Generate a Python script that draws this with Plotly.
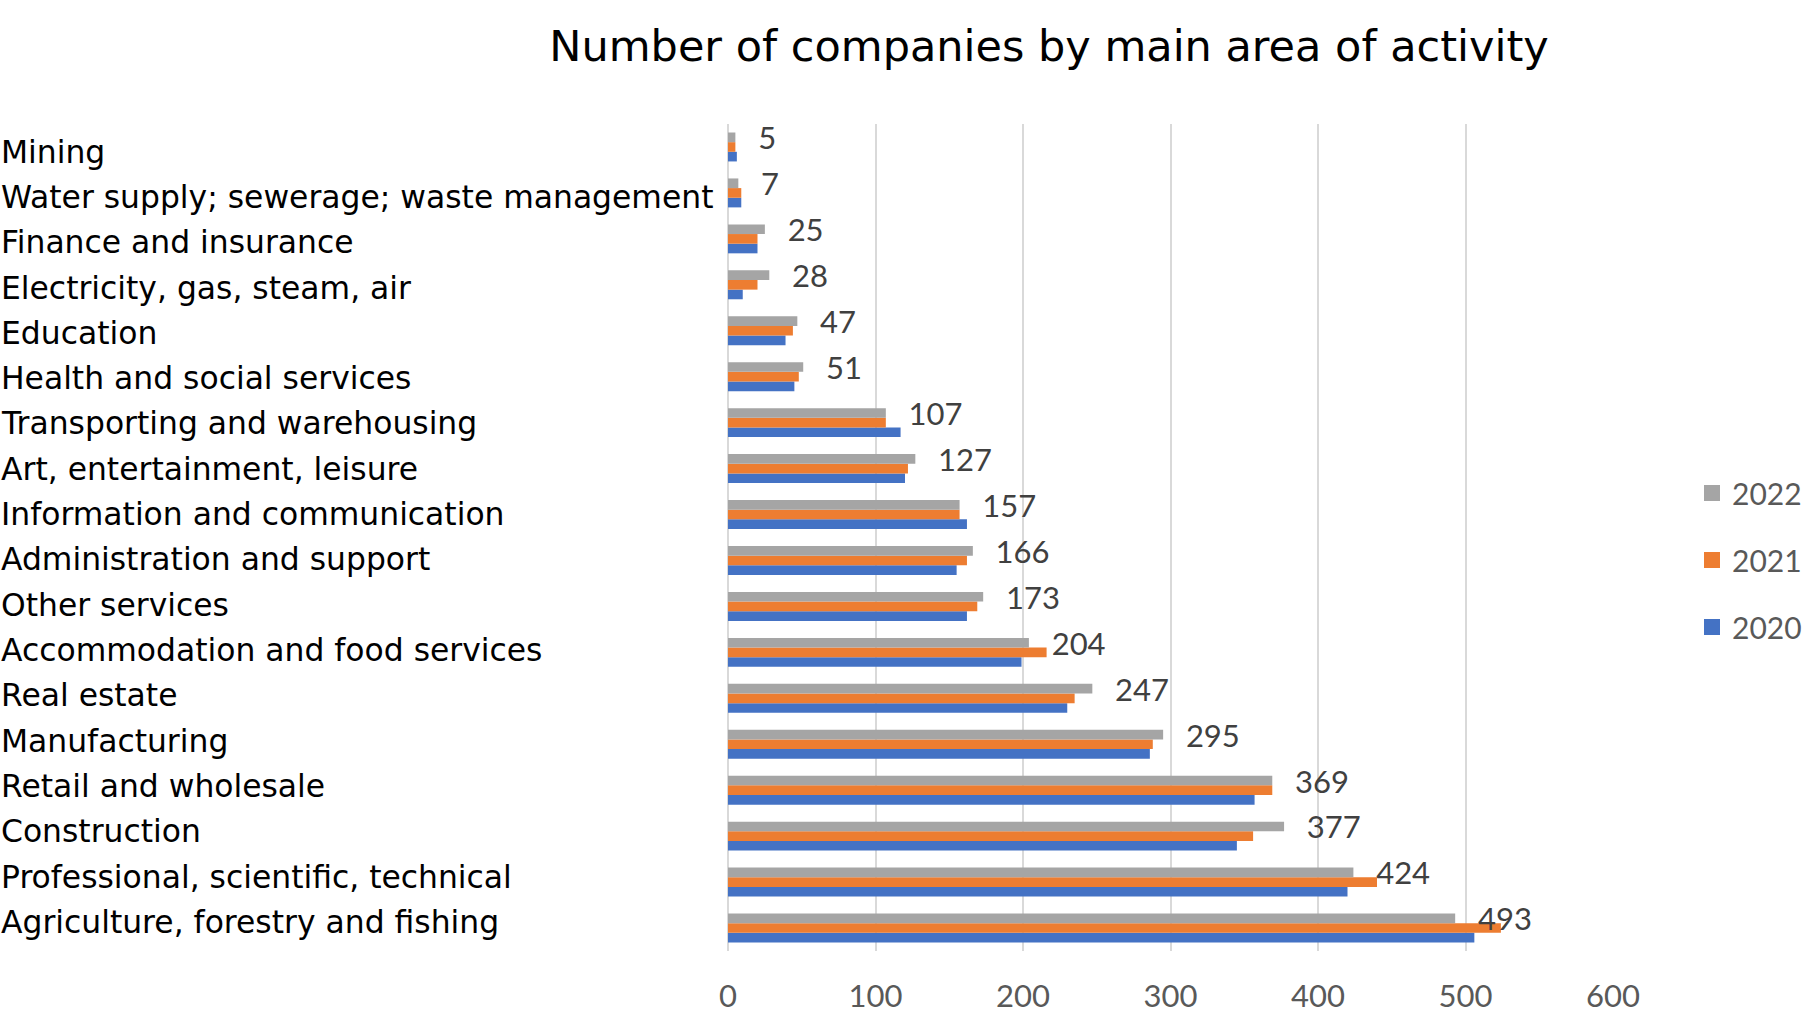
import plotly.graph_objects as go

categories = [
    "Agriculture, forestry and fishing",
    "Professional, scientific, technical",
    "Construction",
    "Retail and wholesale",
    "Manufacturing",
    "Real estate",
    "Accommodation and food services",
    "Other services",
    "Administration and support",
    "Information and communication",
    "Art, entertainment, leisure",
    "Transporting and warehousing",
    "Health and social services",
    "Education",
    "Electricity, gas, steam, air",
    "Finance and insurance",
    "Water supply; sewerage; waste management",
    "Mining",
]
v2022 = [493, 424, 377, 369, 295, 247, 204, 173, 166, 157, 127, 107, 51, 47, 28, 25, 7, 5]
v2021 = [524, 440, 356, 369, 288, 235, 216, 169, 162, 157, 122, 107, 48, 44, 20, 20, 9, 5]
v2020 = [506, 420, 345, 357, 286, 230, 199, 162, 155, 162, 120, 117, 45, 39, 10, 20, 9, 6]
series_names = ["2020", "2021", "2022"]
series_colors = ["#4472C4", "#ED7D31", "#A5A5A5"]
x_ticks = [0, 100, 200, 300, 400, 500, 600]

W, H = 1807, 1013
L, R, T, B = 728, 194, 124, 62
pw = W - L - R

num_font = "Lato, 'Open Sans', sans-serif"
cat_font = "'DejaVu Sans', Verdana, sans-serif"

fig = go.Figure()
for name, vals, col in zip(series_names, [v2020, v2021, v2022], series_colors):
    kw = {}
    if name == "2022":
        kw = dict(text=vals, texttemplate="\u00a0\u00a0\u2009%{text}",
                  textposition="outside", cliponaxis=False, constraintext="none",
                  textfont=dict(family=num_font, size=31, color="#404040"))
    fig.add_trace(go.Bar(y=categories, x=vals, name=name, orientation="h",
                         marker=dict(color=col, line=dict(width=0)),
                         showlegend=False, **kw))

# legend entries (square swatches)
for rank, (name, col) in enumerate(zip(series_names, series_colors)):
    fig.add_trace(go.Scatter(x=[None], y=[None], mode="markers", name=name,
                             marker=dict(symbol="square", size=17, color=col),
                             legendgroup=name, legendrank=3 - rank))

n = len(categories)
for j, c in enumerate(categories):
    i_top = n - 1 - j
    fig.add_annotation(x=-L / pw, xref="paper", y=c, yref="y", text=c,
                       showarrow=False, xanchor="left", yanchor="middle",
                       yshift=-4.6 + 0.63 * i_top, xshift=-1,
                       font=dict(family=cat_font, size=31.4, color="#000000"))

fig.update_layout(
    width=W, height=H,
    margin=dict(l=L, r=R, t=T, b=B, autoexpand=False),
    paper_bgcolor="white", plot_bgcolor="white",
    barmode="group", bargap=0.37, bargroupgap=0,
    title=dict(text="Number of companies by main area of activity",
               x=1049 / W, xanchor="center", xref="container",
               y=1 - 46 / H, yanchor="middle", yref="container",
               font=dict(family=cat_font, size=43, color="#000000")),
    legend=dict(x=(1692 - L) / pw, xanchor="left", y=(H - B - 560) / (H - T - B),
                yanchor="middle", traceorder="grouped", tracegroupgap=25,
                font=dict(family=num_font, size=30, color="#595959"),
                bgcolor="rgba(0,0,0,0)"),
    showlegend=True,
)
fig.update_xaxes(range=[0, 600], tickvals=x_ticks, showgrid=True,
                 gridcolor="#D9D9D9", gridwidth=2, zeroline=True,
                 zerolinecolor="#D9D9D9", zerolinewidth=2, showline=False,
                 ticks="", ticklabelstandoff=24,
                 tickfont=dict(family=num_font, size=31, color="#595959"))
fig.update_yaxes(categoryorder="array", categoryarray=categories,
                 showticklabels=False, showgrid=False, zeroline=False,
                 showline=False, ticks="")

fig.write_html("out.html", config={"displayModeBar": False},
               post_script="document.body.style.margin='0';document.body.style.overflow='hidden';")
